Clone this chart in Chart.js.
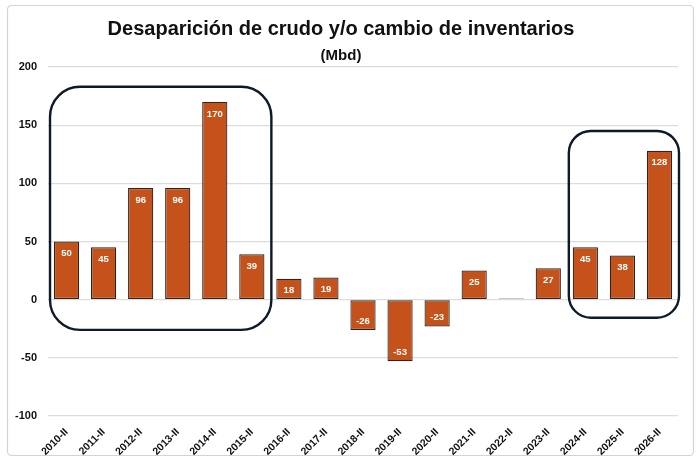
<!DOCTYPE html>
<html>
<head>
<meta charset="utf-8">
<script src="https://cdn.jsdelivr.net/npm/chart.js@4.4.1/dist/chart.umd.min.js"></script>
<style>
  html, body { margin: 0; padding: 0; background: #fff; }
  #wrap { width: 700px; height: 462px; position: relative; }
</style>
</head>
<body>
<div id="wrap"><canvas id="chart"></canvas></div>
<script>
// data
const labels = ["2010-II", "2011-II", "2012-II", "2013-II", "2014-II", "2015-II", "2016-II", "2017-II", "2018-II",
    "2019-II", "2020-II", "2021-II", "2022-II", "2023-II", "2024-II", "2025-II", "2026-II"];
const values = [50, 45, 96, 96, 170, 39, 18, 19, -26, -53, -23, 25, 1, 27, 45, 38, 128];
const yTicks = [-100, -50, 0, 50, 100, 150, 200];

// highlighted groups: first/last category index and value span
const boxes = [
    { from: 0, to: 5, top: 183, bottom: -26, radius: 30 },
    { from: 14, to: 16, top: 145, bottom: -15.5, radius: 22 },
];

const frame = {
    id: "frame",
    beforeDraw(chart) {
        const ctx = chart.ctx;
        ctx.save();
        ctx.strokeStyle = "#d4d4d4";
        ctx.lineWidth = 1.2;
        ctx.beginPath();
        ctx.roundRect(7.5, 5.5, 686, 450, 4);
        ctx.stroke();
        ctx.restore();
    },
};

const valueLabels = {
    id: "valueLabels",
    afterDatasetsDraw(chart) {
        const ctx = chart.ctx;
        const meta = chart.getDatasetMeta(0);
        ctx.save();
        ctx.fillStyle = "#ffffff";
        ctx.font = "bold 9.5px 'Liberation Sans', Arial, sans-serif";
        ctx.textAlign = "center";
        ctx.textBaseline = "middle";
        meta.data.forEach((bar, i) => {
            const v = values[i];
            if (Math.abs(v) < 5) return;
            const y = v >= 0 ? bar.y + 12 : bar.y - 9;
            ctx.fillText(String(v), bar.x, y);
        });
        ctx.restore();
    },
};

const groupBoxes = {
    id: "groupBoxes",
    afterDatasetsDraw(chart) {
        const ctx = chart.ctx;
        const x = chart.scales.x;
        const y = chart.scales.y;
        const step = x.getPixelForValue(1) - x.getPixelForValue(0);
        ctx.save();
        ctx.strokeStyle = "#0e1a28";
        ctx.lineWidth = 2.4;
        boxes.forEach(b => {
            const left = x.getPixelForValue(b.from) - step / 2 + 2;
            const right = x.getPixelForValue(b.to) + step / 2 + 1;
            const top = y.getPixelForValue(b.top);
            const bottom = y.getPixelForValue(b.bottom);
            ctx.beginPath();
            ctx.roundRect(left, top, right - left, bottom - top, b.radius);
            ctx.stroke();
        });
        ctx.restore();
    },
};

new Chart(document.getElementById("chart"), {
    type: "bar",
    data: {
        labels: labels,
        datasets: [{
            data: values,
            backgroundColor: "#c4521a",
            borderColor: "#2e241f",
            borderWidth: 1.2,
            borderSkipped: false,
            barPercentage: 0.68,
            categoryPercentage: 1.0,
        }],
    },
    options: {
        responsive: true,
        maintainAspectRatio: false,
        animation: false,
        layout: { padding: { left: 4, right: 22, top: 4, bottom: 2 } },
        plugins: {
            legend: { display: false },
            tooltip: { enabled: false },
            title: {
                display: true,
                text: "Desaparición de crudo y/o cambio de inventarios",
                color: "#111",
                font: { size: 20, weight: "bold", family: "'Liberation Sans', Arial, sans-serif" },
                padding: { top: 13, bottom: 6 },
            },
            subtitle: {
                display: true,
                text: "(Mbd)",
                color: "#111",
                font: { size: 15, weight: "bold", family: "'Liberation Sans', Arial, sans-serif" },
                padding: { bottom: 2 },
            },
        },
        scales: {
            x: {
                grid: { display: false },
                border: { display: false },
                ticks: {
                    color: "#111",
                    maxRotation: 45,
                    minRotation: 45,
                    padding: 2,
                    font: { size: 10.5, weight: "bold", family: "'Liberation Sans', Arial, sans-serif" },
                },
            },
            y: {
                min: -100,
                max: 200,
                afterBuildTicks(axis) {
                    axis.ticks = yTicks.map(v => ({ value: v }));
                },
                grid: { color: "#dcdcdc", lineWidth: 1.2, drawTicks: false },
                border: { display: false },
                ticks: {
                    color: "#111",
                    padding: 11,
                    font: { size: 11, weight: "bold", family: "'Liberation Sans', Arial, sans-serif" },
                },
            },
        },
    },
    plugins: [frame, groupBoxes, valueLabels],
});
</script>
</body>
</html>
